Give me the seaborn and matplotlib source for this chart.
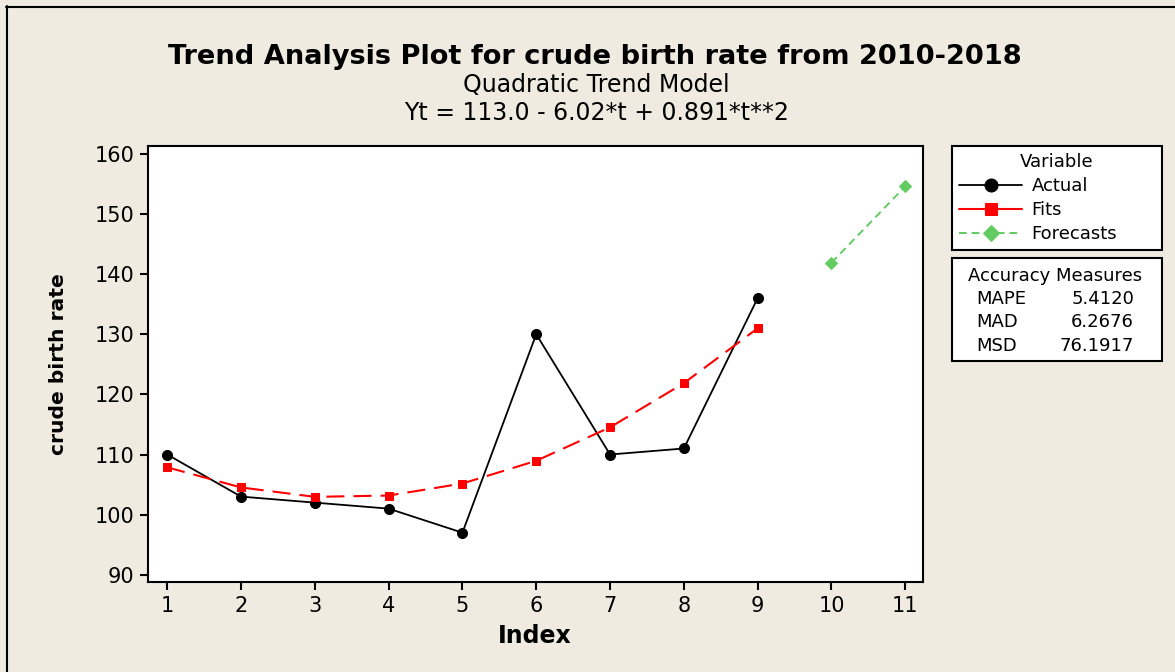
import matplotlib
matplotlib.use("Agg")
import matplotlib.pyplot as plt
from matplotlib.lines import Line2D
from matplotlib.patches import Rectangle
import pandas as pd
import seaborn as sns

# ---- data -------------------------------------------------------------
index_actual = [1, 2, 3, 4, 5, 6, 7, 8, 9]
actual = [110, 103, 102, 101, 97, 130, 110, 111, 136]
fits = [107.871, 104.524, 102.959, 103.176, 105.175, 108.956, 114.519, 121.864, 130.991]
index_forecast = [10, 11]
forecasts = [141.900, 154.591]

x_ticks = [1, 2, 3, 4, 5, 6, 7, 8, 9, 10, 11]
y_ticks = [90, 100, 110, 120, 130, 140, 150, 160]

measure_names = ["MAPE", "MAD", "MSD"]
measure_values = ["5.4120", "6.2676", "76.1917"]

title = "Trend Analysis Plot for crude birth rate from 2010-2018"
subtitle = "Quadratic Trend Model"
equation = "Yt = 113.0 - 6.02*t + 0.891*t**2"

# ---- style ------------------------------------------------------------
BG = "#efebe1"
GREEN = "#62cc62"
sns.set_style("white", {"xtick.bottom": True, "ytick.left": True})
plt.rcParams["font.family"] = ["DejaVu Sans"]
plt.rcParams.update({
    "text.color": "black",
    "axes.labelcolor": "black",
    "xtick.color": "black",
    "ytick.color": "black",
    "lines.scale_dashes": False,
})

W, H = 1175, 672
fig = plt.figure(figsize=(W / 100, H / 100), dpi=100, facecolor=BG)


def fx(px):
    return px / W


def fy(py):
    return 1 - py / H


ax = fig.add_axes([fx(148), fy(582), fx(775), 436 / H])
ax.set_facecolor("white")

df_actual = pd.DataFrame({"Index": index_actual, "value": actual})
df_fits = pd.DataFrame({"Index": index_actual, "value": fits})
df_fc = pd.DataFrame({"Index": index_forecast, "value": forecasts})

sns.lineplot(data=df_actual, x="Index", y="value", ax=ax, color="black",
             marker="o", markersize=7.2, markeredgecolor="black",
             linewidth=1.3, label="Actual")
sns.lineplot(data=df_fits, x="Index", y="value", ax=ax, color="#ff0000",
             marker="s", markersize=6.4, markeredgecolor="#ff0000",
             linewidth=1.5, label="Fits")
ax.lines[-1].set_dashes([13, 6.5])
sns.lineplot(data=df_fc, x="Index", y="value", ax=ax, color=GREEN,
             marker="D", markersize=6.2, markeredgecolor=GREEN,
             linewidth=1.4, label="Forecasts")
ax.lines[-1].set_dashes([5.5, 3.6])

ax.set_xlim(0.74, 11.24)
ax.set_ylim(88.8, 161.3)
ax.set_xticks(x_ticks)
ax.set_yticks(y_ticks)
ax.set_xlabel("")
ax.set_ylabel("")
ax.tick_params(axis="both", which="major", direction="out", length=5.5,
               width=1.5, color="black", labelsize=15, pad=4.5,
               labelcolor="black", bottom=True, left=True)
for sp in ax.spines.values():
    sp.set_visible(True)
    sp.set_color("black")
    sp.set_linewidth(1.5)

# ---- legend -----------------------------------------------------------
handles, labels = ax.get_legend_handles_labels()
leg = ax.legend(handles, labels, title="Variable", loc="upper left",
                bbox_to_anchor=(fx(952), fy(251), fx(210), 105 / H),
                bbox_transform=fig.transFigure, mode="expand",
                borderaxespad=0, fontsize=13, title_fontsize=13,
                handlelength=3.5, handletextpad=0.5, labelspacing=0.33,
                borderpad=0.4, frameon=True, fancybox=False,
                edgecolor="black", framealpha=1, facecolor="white",
                markerscale=1.3)
leg.get_frame().set_linewidth(1.5)
for t in leg.get_texts():
    t.set_color("black")
leg.get_title().set_color("black")
# the Fits key is drawn with a solid stroke
leg_lines = leg.get_lines()
leg_lines[1].set_linestyle("-")

# ---- accuracy measures box -------------------------------------------
fig.patches.append(Rectangle((fx(952), fy(361)), fx(210), 103 / H,
                             transform=fig.transFigure, facecolor="white",
                             edgecolor="black", linewidth=1.5))
fig.text(fx(1055), fy(281), "Accuracy Measures", ha="center",
         va="baseline", fontsize=13)
for name, val, base in zip(measure_names, measure_values, [304, 327, 351]):
    fig.text(fx(976), fy(base), name, ha="left", va="baseline", fontsize=13)
    fig.text(fx(1134), fy(base), val, ha="right", va="baseline", fontsize=13)

# ---- titles and axis labels ------------------------------------------
fig.text(fx(595), fy(64), title, ha="center", va="baseline",
         fontsize=19.6, fontweight="bold")
fig.text(fx(596), fy(92), subtitle, ha="center", va="baseline", fontsize=17)
fig.text(fx(597), fy(120), equation, ha="center", va="baseline", fontsize=17)
fig.text(fx(535), fy(643), "Index", ha="center", va="baseline",
         fontsize=17, fontweight="bold")
fig.text(fx(59), fy(364), "crude birth rate", ha="center", va="center",
         rotation=90, fontsize=14.6, fontweight="bold")

# ---- outer frame (top and left edges) --------------------------------
fig.add_artist(Line2D([fx(6), 1], [fy(7), fy(7)], transform=fig.transFigure,
                      color="black", linewidth=1.5))
fig.add_artist(Line2D([fx(7), fx(7)], [fy(6), 0], transform=fig.transFigure,
                      color="black", linewidth=1.5))

fig.savefig("out.png", dpi=100, facecolor=BG)
